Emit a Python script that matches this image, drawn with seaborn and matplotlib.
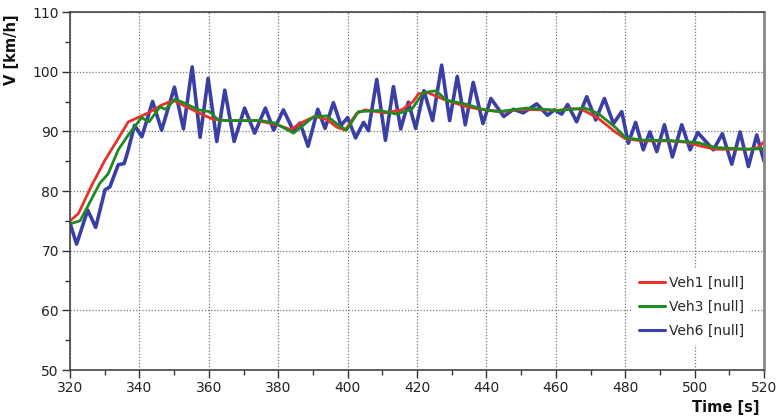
import matplotlib
matplotlib.use("Agg")
import matplotlib.pyplot as plt
from matplotlib.ticker import MultipleLocator
import seaborn as sns
import pandas as pd

# ---- data ----
veh1_t = [320.0, 322.4, 326.3, 330.1, 333.9, 336.8, 339.2, 342.6, 346.4, 349.8, 353.6,
          357.5, 361.3, 365.2, 374.0, 379.6, 383.6, 387.2, 390.6, 394.0, 396.9, 399.3,
          402.6, 405.0, 410.8, 415.6, 418.9, 420.4, 423.0, 428.0, 433.8, 438.2, 444.4,
          450.6, 460.7, 464.0, 467.4, 472.2, 477.1, 479.9, 484.7, 492.0, 497.3, 502.0,
          505.9, 515.5, 518.5, 520.0]
veh1_v = [75.0, 76.2, 81.0, 85.2, 88.8, 91.6, 92.2, 93.1, 94.4, 95.2, 94.1,
          93.0, 92.0, 91.8, 91.8, 91.1, 90.3, 91.6, 92.5, 92.0, 90.7, 90.2,
          93.0, 93.6, 93.1, 93.6, 95.0, 96.3, 96.5, 95.3, 94.2, 93.7, 93.3,
          93.7, 93.5, 93.8, 93.7, 92.2, 89.9, 88.8, 88.4, 88.4, 88.2, 87.5,
          87.0, 87.0, 87.3, 88.3]

veh3_t = [320.0, 322.9, 325.8, 328.6, 331.0, 333.9, 336.8, 339.7, 340.6, 342.8, 345.9,
          347.5, 350.3, 353.1, 357.0, 360.3, 362.7, 366.0, 375.0, 379.0, 384.4, 390.1,
          394.0, 396.8, 399.7, 403.1, 409.3, 414.1, 418.5, 421.8, 425.5, 428.5, 433.8,
          439.5, 443.5, 451.5, 460.7, 468.4, 472.2, 477.1, 480.2, 485.7, 492.0, 501.1,
          505.9, 515.5, 520.0]
veh3_v = [74.5, 75.0, 78.2, 81.3, 82.9, 86.9, 89.4, 91.6, 92.3, 91.6, 94.1,
          93.7, 95.4, 94.7, 93.6, 93.3, 91.9, 91.8, 91.8, 91.4, 89.7, 92.4,
          92.6, 91.3, 90.2, 93.3, 93.5, 92.9, 93.7, 96.5, 96.8, 95.2, 94.6,
          93.6, 93.3, 93.9, 93.5, 93.9, 93.0, 90.7, 88.9, 88.5, 88.5, 88.1,
          87.3, 87.0, 87.1]

veh6_t = [320.0, 321.9, 325.1, 327.4, 330.1, 331.5, 333.9, 335.6, 336.6, 338.6, 340.7,
          343.8, 346.4, 350.1, 352.7, 355.2, 357.5, 359.8, 362.3, 364.6, 367.3, 370.3,
          373.2, 376.3, 378.7, 381.5, 384.3, 386.3, 388.6, 391.4, 393.5, 395.9, 398.1,
          400.0, 402.3, 404.6, 406.0, 408.4, 410.9, 413.2, 415.3, 417.5, 419.6, 422.0,
          424.5, 427.1, 429.4, 431.6, 433.9, 436.2, 439.0, 441.3, 445.0, 447.8, 450.6,
          454.5, 457.6, 459.6, 461.7, 463.4, 466.0, 468.9, 471.5, 474.0, 476.6, 479.0,
          480.9, 483.0, 485.2, 487.1, 489.1, 491.3, 493.6, 496.3, 498.7, 500.9, 505.4,
          508.0, 510.7, 513.1, 515.5, 517.9, 520.0]
veh6_v = [74.6, 71.1, 76.8, 73.9, 80.2, 80.7, 84.4, 84.6, 86.5, 91.0, 89.1,
          95.0, 90.2, 97.4, 90.4, 100.8, 89.0, 98.9, 88.3, 96.9, 88.3, 93.9,
          89.7, 93.9, 90.2, 93.6, 90.2, 91.4, 87.5, 93.7, 90.5, 94.8, 91.0,
          92.3, 88.9, 91.5, 90.1, 98.7, 88.5, 97.5, 90.4, 94.9, 90.5, 96.8,
          91.8, 101.1, 91.8, 99.2, 91.1, 98.2, 91.3, 95.5, 92.5, 93.7, 93.1,
          94.6, 92.7, 93.6, 92.9, 94.5, 91.6, 95.8, 91.9, 95.5, 91.3, 93.3,
          88.0, 91.5, 86.9, 89.9, 86.6, 91.1, 85.7, 91.1, 86.9, 89.8, 86.9,
          89.6, 84.5, 89.9, 84.1, 89.4, 85.0]

labels = ["Veh1 [null]", "Veh3 [null]", "Veh6 [null]"]
colors = ["#e8322b", "#1f8a1f", "#3a3fa6"]
x_ticks = [320, 340, 360, 380, 400, 420, 440, 460, 480, 500, 520]
y_ticks = [50, 60, 70, 80, 90, 100, 110]

frames = []
for lab, t, v in zip(labels, [veh1_t, veh3_t, veh6_t], [veh1_v, veh3_v, veh6_v]):
    frames.append(pd.DataFrame({"Time": t, "V": v, "Series": lab}))
df = pd.concat(frames, ignore_index=True)

sns.set_style("white")
plt.rcParams["font.family"] = ["DejaVu Sans"]

fig = plt.figure(figsize=(7.77, 4.17), dpi=100)
ax = fig.add_axes([0.0901, 0.1127, 0.8932, 0.8585])

sns.lineplot(data=df, x="Time", y="V", hue="Series", hue_order=labels,
             palette=dict(zip(labels, colors)), sort=False, estimator=None,
             linewidth=2.2, ax=ax)
for line, lw in zip(ax.get_lines()[:3], [2.0, 2.0, 2.6]):
    line.set_linewidth(lw)
    line.set_solid_joinstyle("round")
ax.get_lines()[2].set_zorder(1)

ax.set_xlim(320, 520)
ax.set_ylim(50, 110)
ax.set_xticks(x_ticks)
ax.set_yticks(y_ticks)
ax.xaxis.set_minor_locator(MultipleLocator(10))
ax.yaxis.set_minor_locator(MultipleLocator(5))
ax.tick_params(axis="both", which="major", direction="out", length=6, width=1,
               color="#333333", labelsize=10, labelcolor="#222222", pad=2,
               left=True, bottom=True)
ax.tick_params(axis="both", which="minor", direction="out", length=3.5, width=1,
               color="#333333", left=True, bottom=True)
ax.grid(True, which="major", linestyle=(0, (1, 1.5)), color="#777777", linewidth=0.9)
for name, sp in ax.spines.items():
    sp.set_visible(True)
    sp.set_color("#444444")
    sp.set_linewidth(1.2)
ax.spines["right"].set_color("#888888")
ax.spines["right"].set_linewidth(2)

ax.set_ylabel("V [km/h]", fontsize=10.5, fontweight="bold", color="#111111")
ax.yaxis.set_label_coords(-0.074, 0.895)
ax.set_xlabel("Time [s]", fontsize=10.5, fontweight="bold", color="#111111",
              loc="right")
ax.xaxis.set_label_coords(0.993, -0.085)
ax.xaxis.label.set_horizontalalignment("right")

handles, labs = ax.get_legend_handles_labels()
leg = ax.legend(handles, labs, loc="lower left", bbox_to_anchor=(0.80, 0.05),
                frameon=True, fancybox=False, edgecolor="none", facecolor="white",
                framealpha=1, fontsize=10, handlelength=1.9, handletextpad=0.25,
                labelspacing=0.72, borderpad=0.5)
for h in leg.get_lines():
    h.set_linewidth(2.2)

fig.savefig("out.png", dpi=100)
